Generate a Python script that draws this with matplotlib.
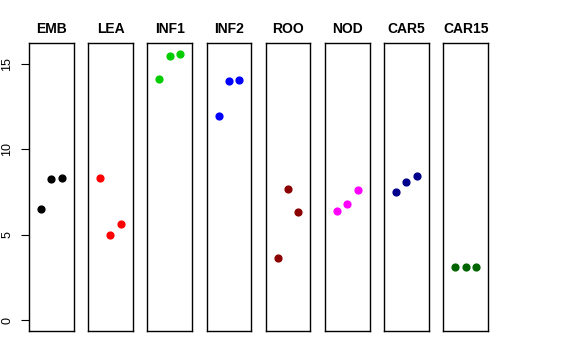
import numpy as np
import matplotlib
matplotlib.use('Agg')
from matplotlib import pyplot as plt

plt.rcParams['font.family'] = ['Liberation Sans', 'DejaVu Sans']

# tissues and replicate values (3 replicates each)
tissues = ['EMB', 'LEA', 'INF1', 'INF2', 'ROO', 'NOD', 'CAR5', 'CAR15']
emb = [6.52, 8.24, 8.30]
lea = [8.30, 5.02, 5.64]
inf1 = [14.10, 15.48, 15.60]
inf2 = [11.95, 14.02, 14.08]
roo = [3.67, 7.71, 6.31]
nod = [6.37, 6.78, 7.63]
car5 = [7.52, 8.12, 8.43]
car15 = [3.10, 3.10, 3.10]
values = [emb, lea, inf1, inf2, roo, nod, car5, car15]
colors = ['black', 'red', '#00CD00', 'blue', '#8B0000', 'magenta', '#00008B', '#006400']

W, H = 576, 360
fig = plt.figure(figsize=(W / 100, H / 100), dpi=100)

ymax = max(max(v) for v in values)
pad = 0.04 * ymax
left0, step, width = 29, 59.2, 44.5
top, bottom = 43, 331

for i, (name, vals, col) in enumerate(zip(tissues, values, colors)):
    x0 = left0 + i * step
    ax = fig.add_axes([x0 / W, 1 - bottom / H, width / W, (bottom - top) / H])
    ax.scatter(np.arange(1, len(vals) + 1), vals, color=col, s=24, zorder=3)
    ax.set_xlim(-0.16, 4.16)
    ax.set_ylim(-pad, ymax + pad)
    ax.set_xticks([])
    ax.set_title(name, fontsize=10, fontweight='bold', pad=7)
    for s in ax.spines.values():
        s.set_linewidth(1.0)
        s.set_color('black')
    if i == 0:
        ax.set_yticks([0, 5, 10, 15])
        ax.tick_params(axis='y', length=5.5, labelsize=9, pad=6)
        plt.setp(ax.get_yticklabels(), rotation=90, va='center')
    else:
        ax.set_yticks([])

fig.savefig('out.png', dpi=100)
